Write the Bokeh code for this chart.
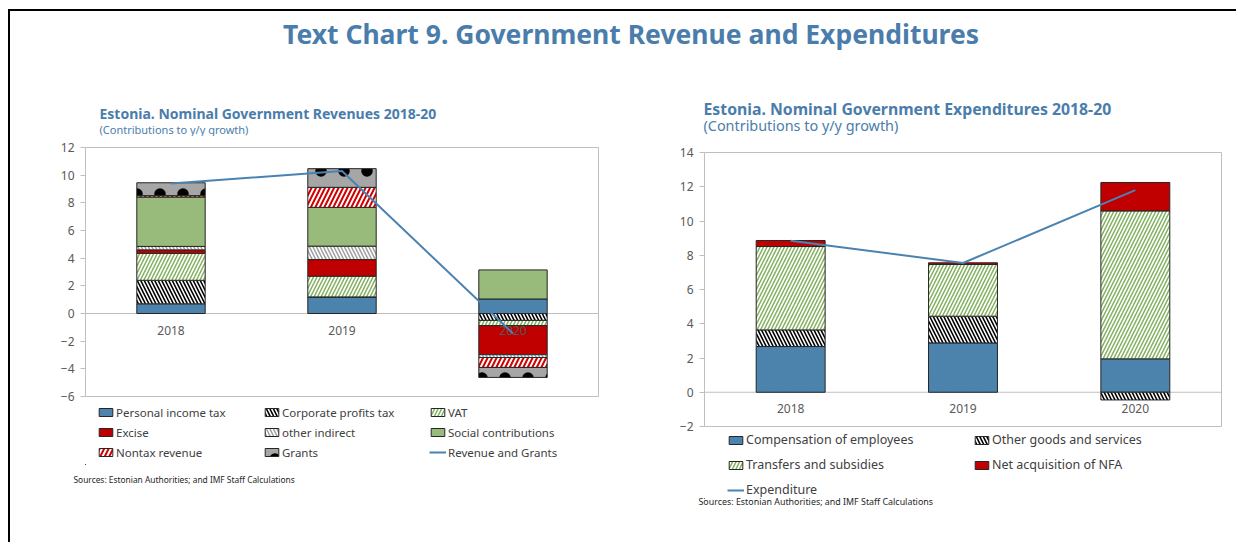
from bokeh.plotting import figure
from bokeh.models import (FactorRange, Range1d, FixedTicker, Span, Legend, LegendItem, Title, Spacer)
from bokeh.layouts import column, row
from bokeh.embed import file_html
from bokeh.resources import INLINE
from bokeh.core.properties import value

years = ["2018", "2019", "2020"]

# ---- Revenues (contributions to y/y growth) ----
rev_labels = ["Personal income tax", "Corporate profits tax", "VAT", "Excise",
              "other indirect", "Social contributions", "Nontax revenue", "Grants"]
personal_income_tax = [0.70, 1.20, 1.05]
corporate_profits_tax = [1.70, 0.00, -0.50]
vat = [1.95, 1.50, -0.38]
excise = [0.25, 1.20, -2.10]
other_indirect = [0.25, 0.97, -0.20]
social_contributions = [3.57, 2.80, 2.10]
nontax_revenue = [0.10, 1.45, -0.72]
grants = [0.93, 1.35, -0.72]
revenue_and_grants = [9.40, 10.30, -1.45]

# ---- Expenditures (contributions to y/y growth) ----
exp_labels = ["Compensation of employees", "Other goods and services",
              "Transfers and subsidies", "Net acquisition of NFA"]
compensation_of_employees = [2.67, 2.88, 1.95]
other_goods_and_services = [0.97, 1.56, -0.45]
transfers_and_subsidies = [4.87, 3.02, 8.64]
net_acquisition_of_nfa = [0.35, 0.10, 1.66]
expenditure = [8.85, 7.55, 11.80]

rev_ticks = [-6, -4, -2, 0, 2, 4, 6, 8, 10, 12]
exp_ticks = [-2, 0, 2, 4, 6, 8, 10, 12, 14]

main_title = "Text Chart 9. Government Revenue and Expenditures"
rev_title = "Estonia.  Nominal Government Revenues 2018-20"
exp_title = "Estonia.  Nominal Government Expenditures 2018-20"
subtitle = "(Contributions to y/y growth)"
source = "Sources: Estonian Authorities; and IMF Staff Calculations"

FONT = "Noto Sans"
BLUE_T = "#4A7DAB"
LINE_C = "#4A83B2"
AX_C = "#BFBFBF"
TXT_C = "#595959"
LEG_C = "#404040"

STY = {
    "pit": dict(fill_color="#4E86AF", hatch_pattern="\\", hatch_color="#3E74A0", hatch_scale=5, hatch_weight=0.6, hatch_alpha=0.6),
    "corp": dict(fill_color="white", hatch_pattern="\\", hatch_color="black", hatch_scale=7, hatch_weight=1.6),
    "vat": dict(fill_color="white", hatch_pattern="/", hatch_color="#82B05E", hatch_scale=7, hatch_weight=1.5),
    "excise": dict(fill_color="#C00000"),
    "oind": dict(fill_color="white", hatch_pattern="\\", hatch_color="#A0A0A0", hatch_scale=7, hatch_weight=1.5),
    "social": dict(fill_color="#98BA7A"),
    "nontax": dict(fill_color="white", hatch_pattern="/", hatch_color="#D00000", hatch_scale=9, hatch_weight=2.0),
    "grants": dict(fill_color="#A6A6A6", hatch_pattern=".", hatch_color="black", hatch_scale=23, hatch_weight=1.7),
}


def stack(series_list):
    pos = [0.0] * len(years)
    neg = [0.0] * len(years)
    out = []
    for vals in series_list:
        b, t = [], []
        for i, v in enumerate(vals):
            if v >= 0:
                b.append(pos[i]); t.append(pos[i] + v); pos[i] += v
            else:
                b.append(neg[i]); t.append(neg[i] + v); neg[i] += v
        out.append((b, t))
    return out


def blank_fig(fw, fh, bl=0, br=0, bb=0):
    f = figure(frame_width=fw, frame_height=fh, x_range=Range1d(0, fw), y_range=Range1d(0, fh),
               x_axis_type=None, y_axis_type=None, min_border=0,
               min_border_left=bl, min_border_right=br, min_border_top=0, min_border_bottom=bb,
               output_backend="svg", toolbar_location=None)
    f.outline_line_color = None
    f.grid.visible = False
    return f


def make_fig(yr, ticks, fw, fh, bl, br, bt, bb):
    p = figure(x_range=FactorRange(*years), y_range=Range1d(*yr),
               frame_width=fw, frame_height=fh,
               min_border_left=bl, min_border_right=br, min_border_top=bt, min_border_bottom=bb,
               output_backend="svg", toolbar_location=None, title=None)
    p.xaxis.visible = False
    p.grid.visible = False
    p.outline_line_color = AX_C
    p.outline_line_width = 1
    ax = p.yaxis[0]
    ax.ticker = FixedTicker(ticks=ticks)
    ax.axis_line_color = AX_C
    ax.major_tick_line_color = AX_C
    ax.major_tick_in = 0
    ax.major_tick_out = 5
    ax.minor_tick_line_color = None
    ax.major_label_text_color = TXT_C
    ax.major_label_text_font = FONT
    ax.major_label_text_font_size = "12px"
    ax.major_label_standoff = 6
    p.add_layout(Span(location=0, dimension="width", line_color=AX_C, line_width=1.2, level="underlay"))
    return p


def legend_strip(fw, fh, bl, br, bb, keys, labels, line_label, loc, ncols, lw, lh, sp, fs):
    f = blank_fig(fw, fh, bl, br, bb)
    # off-screen swatch renderers used only for the legend
    rs = [f.vbar(x=[-1000], top=[-1000], width=1, line_color="#262626", line_width=1, **STY[k]) for k in keys]
    rs.append(f.line(x=[-1000, -999], y=[-1000, -1000], line_color=LINE_C, line_width=2))
    leg = Legend(items=[LegendItem(label=lab, renderers=[r]) for lab, r in zip(labels + [line_label], rs)],
                 orientation="horizontal", ncols=ncols, location=loc,
                 glyph_width=17, glyph_height=10, label_standoff=2, label_width=lw, label_height=lh,
                 spacing=sp, padding=0, margin=0, label_text_font=FONT, label_text_font_size=fs,
                 label_text_color=LEG_C, border_line_color=None, background_fill_alpha=0)
    f.add_layout(leg, "center")
    return f


# ---------- Title area (page y 11..136, x 10..1236) ----------
tf = blank_fig(1226, 125)
tf.text(x=[620.5], y=[103], text=[main_title], text_align="center", text_baseline="middle",
        text_font=value(FONT), text_font_style="bold", text_font_size="26.5px", text_color=BLUE_T)
tf.text(x=[89, 693], y=[23, 28], text=[rev_title, exp_title], text_align="left", text_baseline="middle",
        text_font=value(FONT), text_font_style="bold", text_font_size=["14px", "15.8px"], text_color=BLUE_T)
tf.text(x=[89, 693], y=[7.5, 11], text=[subtitle, subtitle], text_align="left", text_baseline="middle",
        text_font=value(FONT), text_font_size=["11px", "14.4px"], text_color=BLUE_T)

# ---------- Left: revenues ----------
keys = ["pit", "corp", "vat", "excise", "oind", "social", "nontax", "grants"]
rev_vals = [personal_income_tax, corporate_profits_tax, vat, excise, other_indirect,
            social_contributions, nontax_revenue, grants]

pl = make_fig((-6, 12), rev_ticks, 513, 249, 75, 22, 11, 8)
for k, (b, t) in zip(keys, stack(rev_vals)):
    pl.vbar(x=years, bottom=b, top=t, width=0.4, line_color="#262626", line_width=1, **STY[k])
pl.text(x=years, y=[0, 0, 0], text=years, text_align="center", text_baseline="middle",
        y_offset=17, text_font=value(FONT), text_font_size="12px", text_color=TXT_C)
pl.line(x=years, y=revenue_and_grants, line_color=LINE_C, line_width=2)

ll = legend_strip(513, 60, 75, 22, 0, keys, rev_labels, "Revenue and Grants", (12, 4), 3, 143, 16, 4, "11.5px")
ll.add_layout(Title(text=source, align="left", offset=-12, standoff=14, text_font=FONT,
                    text_font_size="8.4px", text_font_style="normal", text_color="#262626"), "below")

# ---------- Right: expenditures ----------
ekeys = ["pit", "corp", "vat", "excise"]
exp_vals = [compensation_of_employees, other_goods_and_services, transfers_and_subsidies,
            net_acquisition_of_nfa]

pr = make_fig((-2, 14), exp_ticks, 517, 274, 84, 9, 16, 5)
for k, (b, t) in zip(ekeys, stack(exp_vals)):
    pr.vbar(x=years, bottom=b, top=t, width=0.4, line_color="#262626", line_width=1, **STY[k])
pr.text(x=years, y=[0, 0, 0], text=years, text_align="center", text_baseline="middle",
        y_offset=16, text_font=value(FONT), text_font_size="12px", text_color=TXT_C)
pr.line(x=years, y=expenditure, line_color=LINE_C, line_width=2)

lr = legend_strip(517, 67, 84, 9, 30, ekeys, exp_labels, "Expenditure", (23, 0), 2, 219, 17, 8, "12.5px")
lr.add_layout(Title(text=source, align="left", offset=-6, standoff=-12, text_font=FONT,
                    text_font_size="8.9px", text_font_style="normal", text_color="#262626"), "below")

layout = column(tf, row(column(pl, ll), column(pr, lr, Spacer(width=610, height=14))),
                styles={"margin-top": "9px", "margin-left": "8px",
                        "border-top": "2px solid black", "border-left": "2px solid black"})

open("out.html", "w").write(file_html(layout, INLINE))
